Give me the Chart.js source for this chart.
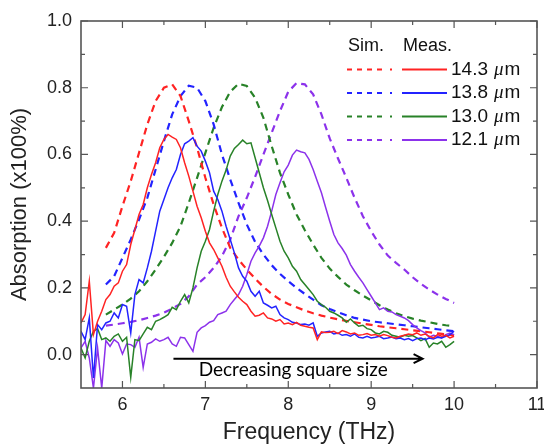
<!DOCTYPE html>
<html><head><meta charset="utf-8">
<script src="https://cdn.jsdelivr.net/npm/chart.js@4.4.1/dist/chart.umd.min.js"></script>
<style>html,body{margin:0;padding:0;background:#fff;}#wrap{width:544px;height:444px;position:relative;}</style>
</head><body><div id="wrap"><canvas id="c"></canvas></div>
<script>
// ---- data ----
const sizes = ['14.3', '13.8', '13.0', '12.1'];
const colors = ['rgb(255,35,35)', 'rgb(35,35,255)', 'rgb(40,130,40)', 'rgb(140,50,235)'];
const xTicks = [6, 7, 8, 9, 10, 11];
const yTicks = [0.0, 0.2, 0.4, 0.6, 0.8, 1.0];

const simFreq = [5.8,5.9,6.0,6.1,6.2,6.3,6.4,6.5,6.6,6.7,6.8,6.9,7.0,7.1,7.2,7.3,7.4,7.5,7.6,7.7,7.8,7.9,8.0,8.1,8.2,8.3,8.4,8.5,8.6,8.7,8.8,8.9,9.0,9.1,9.2,9.3,9.4,9.5,9.6,9.7,9.8,9.9,10.0];
const sim143 = [0.32,0.365,0.445,0.52,0.605,0.69,0.76,0.80,0.81,0.775,0.70,0.62,0.53,0.45,0.38,0.32,0.285,0.255,0.228,0.203,0.182,0.165,0.152,0.142,0.132,0.124,0.117,0.111,0.106,0.101,0.097,0.093,0.089,0.085,0.082,0.079,0.076,0.073,0.07,0.067,0.064,0.061,0.058];
const sim138 = [0.21,0.235,0.29,0.345,0.405,0.47,0.555,0.64,0.72,0.775,0.806,0.80,0.76,0.69,0.60,0.525,0.455,0.39,0.338,0.30,0.268,0.242,0.22,0.2,0.182,0.165,0.148,0.137,0.127,0.118,0.11,0.105,0.1,0.097,0.094,0.091,0.088,0.085,0.082,0.079,0.076,0.073,0.07];
const sim130 = [0.12,0.135,0.15,0.168,0.19,0.22,0.255,0.293,0.335,0.385,0.455,0.53,0.605,0.68,0.742,0.788,0.812,0.805,0.77,0.71,0.625,0.545,0.48,0.42,0.373,0.33,0.29,0.258,0.233,0.21,0.193,0.177,0.163,0.148,0.135,0.124,0.115,0.108,0.102,0.097,0.092,0.088,0.085];
const sim121 = [0.087,0.09,0.094,0.098,0.103,0.11,0.117,0.126,0.138,0.152,0.175,0.21,0.232,0.26,0.295,0.345,0.415,0.47,0.533,0.6,0.665,0.73,0.788,0.814,0.81,0.78,0.72,0.648,0.588,0.53,0.47,0.415,0.37,0.33,0.297,0.275,0.255,0.232,0.212,0.195,0.18,0.167,0.155];

const measFreq = [5.50,5.55,5.60,5.65,5.70,5.75,5.80,5.85,5.90,5.95,
  6.00,6.05,6.10,6.15,6.20,6.25,6.30,6.35,6.40,6.45,
  6.50,6.55,6.60,6.65,6.70,6.75,6.80,6.85,6.90,6.95,
  7.00,7.05,7.10,7.15,7.20,7.25,7.30,7.35,7.40,7.45,
  7.50,7.55,7.60,7.65,7.70,7.75,7.80,7.85,7.90,7.95,
  8.00,8.05,8.10,8.15,8.20,8.25,8.30,8.35,8.40,8.45,
  8.50,8.55,8.60,8.65,8.70,8.75,8.80,8.85,8.90,8.95,
  9.00,9.05,9.10,9.15,9.20,9.25,9.30,9.35,9.40,9.45,
  9.50,9.55,9.60,9.65,9.70,9.75,9.80,9.85,9.90,9.95,
  10.00];
const meas143 = [0.095,0.12,0.22,0.06,0.10,0.13,0.165,0.18,0.205,0.215,
  0.25,0.27,0.33,0.375,0.42,0.45,0.50,0.54,0.575,0.62,
  0.645,0.66,0.652,0.645,0.62,0.575,0.535,0.49,0.445,0.41,
  0.37,0.335,0.315,0.29,0.265,0.232,0.205,0.188,0.172,0.16,
  0.15,0.13,0.115,0.118,0.125,0.11,0.107,0.10,0.105,0.092,
  0.095,0.09,0.097,0.088,0.085,0.082,0.08,0.045,0.068,0.066,
  0.067,0.07,0.063,0.072,0.068,0.062,0.065,0.058,0.06,0.063,
  0.058,0.06,0.055,0.06,0.057,0.052,0.05,0.055,0.058,0.062,
  0.06,0.065,0.058,0.062,0.055,0.05,0.06,0.055,0.058,0.05,
  0.055];
const meas138 = [0.07,0.045,0.11,-0.07,0.09,0.075,0.095,0.10,0.125,0.11,
  0.15,0.145,0.065,0.18,0.225,0.215,0.26,0.31,0.37,0.43,
  0.465,0.50,0.53,0.555,0.60,0.632,0.64,0.65,0.625,0.61,
  0.58,0.545,0.49,0.465,0.43,0.385,0.345,0.305,0.26,0.235,
  0.22,0.19,0.175,0.19,0.155,0.148,0.14,0.145,0.12,0.11,
  0.105,0.097,0.095,0.09,0.092,0.088,0.095,0.055,0.065,0.068,
  0.07,0.062,0.065,0.058,0.06,0.055,0.062,0.052,0.05,0.055,
  0.05,0.052,0.055,0.048,0.05,0.053,0.048,0.05,0.045,0.048,
  0.042,0.048,0.05,0.045,0.05,0.047,0.052,0.05,0.055,0.06,
  0.07];
const meas130 = [0.02,-0.01,0.04,0.07,0.078,0.045,0.05,0.04,0.055,0.062,
  0.04,0.052,-0.068,0.045,0.042,0.062,0.082,0.075,0.10,0.105,
  0.112,0.12,0.142,0.135,0.16,0.18,0.155,0.20,0.26,0.31,
  0.34,0.375,0.43,0.48,0.52,0.553,0.595,0.618,0.63,0.643,
  0.632,0.635,0.59,0.545,0.50,0.462,0.42,0.38,0.34,0.31,
  0.29,0.265,0.25,0.225,0.21,0.195,0.18,0.16,0.15,0.142,
  0.13,0.125,0.118,0.11,0.097,0.107,0.095,0.085,0.088,0.078,
  0.075,0.065,0.062,0.07,0.067,0.058,0.055,0.052,0.058,0.055,
  0.057,0.05,0.042,0.048,0.022,0.035,0.032,0.04,0.022,0.03,
  0.04];
const meas121 = [0.02,0.04,-0.01,-0.1,0.02,-0.1,0.042,0.025,0.045,0.035,
  0.002,0.032,0.03,0.022,0.052,-0.038,0.032,0.037,0.047,0.04,
  0.045,0.052,0.032,0.025,0.052,0.05,0.03,0.01,0.067,0.08,
  0.087,0.097,0.102,0.12,0.125,0.13,0.15,0.165,0.18,0.205,
  0.24,0.28,0.305,0.325,0.35,0.385,0.43,0.48,0.515,0.548,
  0.568,0.598,0.613,0.608,0.605,0.585,0.555,0.52,0.485,0.442,
  0.40,0.36,0.335,0.318,0.298,0.27,0.25,0.232,0.215,0.195,
  0.175,0.155,0.135,0.14,0.13,0.128,0.12,0.115,0.11,0.102,
  0.09,0.08,0.072,0.065,0.052,0.058,0.055,0.05,0.06,0.065,
  0.06];

const simSeries = [sim143, sim138, sim130, sim121];
const measSeries = [meas143, meas138, meas130, meas121];

// annotation (data units)
const arrowFrom = [6.615, -0.012];
const arrowTo = [9.62, -0.012];
const arrowText = 'Decreasing square size';
const arrowTextPos = [8.06, -0.046];

// ---- chart ----
const FONT = '"Liberation Sans", Arial, sans-serif';
const datasets = [];
for (let i = 0; i < 4; i++) {
  datasets.push({
    label: sizes[i] + ' Meas.', data: measFreq.map((f, j) => ({x: f, y: measSeries[i][j]})),
    borderColor: colors[i], borderWidth: 1.5, pointRadius: 0, fill: false, tension: 0
  });
}
for (let i = 0; i < 4; i++) {
  datasets.push({
    label: sizes[i] + ' Sim.', data: simFreq.map((f, j) => ({x: f, y: simSeries[i][j]})),
    borderColor: colors[i], borderWidth: 2.2, borderDash: [7, 5], pointRadius: 0, fill: false, tension: 0
  });
}

const framePlugin = {
  id: 'frame',
  afterDatasetsDraw(chart) {
    const {ctx, chartArea: a, scales: {x, y}} = chart;
    ctx.save();
    ctx.strokeStyle = '#555';
    ctx.lineWidth = 1.2;
    ctx.beginPath();
    const tick = (px, len, horiz) => {
      if (horiz) { // x ticks
        ctx.moveTo(px, a.bottom); ctx.lineTo(px, a.bottom - len);
        ctx.moveTo(px, a.top); ctx.lineTo(px, a.top + len);
      } else {
        ctx.moveTo(a.left, px); ctx.lineTo(a.left + len, px);
        ctx.moveTo(a.right, px); ctx.lineTo(a.right - len, px);
      }
    };
    xTicks.forEach(v => {
      tick(x.getPixelForValue(v), 7, true);
      const m = v - 0.5;
      if (m > x.min) tick(x.getPixelForValue(m), 4, true);
    });
    yTicks.forEach(v => {
      tick(y.getPixelForValue(v), 7, false);
      const m = v - 0.1;
      if (m > y.min + 0.01) tick(y.getPixelForValue(m), 4, false);
    });
    ctx.stroke();
    ctx.lineWidth = 1.6;
    ctx.strokeRect(a.left, a.top, a.right - a.left, a.bottom - a.top);

    // arrow annotation
    const x0 = x.getPixelForValue(arrowFrom[0]), x1 = x.getPixelForValue(arrowTo[0]);
    const ya = y.getPixelForValue(arrowFrom[1]);
    ctx.strokeStyle = '#000';
    ctx.lineWidth = 2;
    ctx.beginPath();
    ctx.moveTo(x0, ya); ctx.lineTo(x1, ya);
    ctx.moveTo(x1 - 9, ya - 4.5); ctx.lineTo(x1, ya); ctx.lineTo(x1 - 9, ya + 4.5);
    ctx.stroke();
    ctx.fillStyle = '#000';
    ctx.font = '19px Lato, "Open Sans", sans-serif';
    ctx.textAlign = 'center';
    ctx.textBaseline = 'middle';
    ctx.fillText(arrowText, x.getPixelForValue(arrowTextPos[0]), y.getPixelForValue(arrowTextPos[1]));
    ctx.restore();
  },
  afterDraw(chart) {
    const ctx = chart.ctx;
    ctx.save();
    ctx.fillStyle = '#111';
    ctx.textBaseline = 'middle';
    ctx.textAlign = 'left';
    ctx.font = '18px ' + FONT;
    ctx.fillText('Sim.', 348, 46);
    ctx.fillText('Meas.', 403, 46);
    const rows = [69.5, 93, 116.5, 140];
    for (let i = 0; i < 4; i++) {
      const yy = rows[i];
      ctx.strokeStyle = colors[i];
      ctx.lineWidth = 2;
      ctx.setLineDash([5, 5, 5, 5, 5, 5, 5, 8, 3, 100]);
      ctx.beginPath(); ctx.moveTo(347, yy); ctx.lineTo(392, yy); ctx.stroke();
      ctx.setLineDash([]);
      ctx.lineWidth = 1.8;
      ctx.beginPath(); ctx.moveTo(402, yy); ctx.lineTo(447, yy); ctx.stroke();
      ctx.fillStyle = '#111';
      ctx.font = '19px ' + FONT;
      ctx.fillText(sizes[i], 451, yy);
      let xx = 451 + ctx.measureText(sizes[i]).width + 6;
      ctx.font = 'italic 19px "Liberation Serif", serif';
      ctx.fillText('\u03bc', xx, yy);
      xx += ctx.measureText('\u03bc').width + 1;
      ctx.font = '19px ' + FONT;
      ctx.fillText('m', xx, yy);
    }
    ctx.restore();
  }
};

new Chart(document.getElementById('c'), {
  type: 'line',
  data: {datasets},
  plugins: [framePlugin],
  options: {
    responsive: true, maintainAspectRatio: false, animation: false, devicePixelRatio: 1,
    layout: {padding: {top: 21, right: 7, left: 0, bottom: 0}},
    plugins: {legend: {display: false}, tooltip: {enabled: false}},
    scales: {
      x: {
        type: 'linear', min: 5.5, max: 11,
        grid: {display: false, drawTicks: false}, border: {display: false},
        afterBuildTicks: s => { s.ticks = xTicks.map(v => ({value: v})); },
        afterFit: s => { s.height = 56; s.paddingLeft = 0; s.paddingRight = 0; },
        ticks: {font: {family: FONT, size: 18}, color: '#222', padding: 6, maxRotation: 0, autoSkip: false, callback: v => String(v)},
        title: {display: true, text: 'Frequency (THz)', font: {family: FONT, size: 23, lineHeight: 1}, color: '#222', padding: {top: 0, bottom: 0}}
      },
      y: {
        type: 'linear', min: -0.1, max: 1.0,
        grid: {display: false, drawTicks: false}, border: {display: false},
        afterBuildTicks: s => { s.ticks = yTicks.map(v => ({value: v})); },
        afterFit: s => { s.width = 81; s.paddingTop = 0; s.paddingBottom = 0; },
        ticks: {font: {family: FONT, size: 18}, color: '#222', padding: 9, autoSkip: false, callback: v => Number(v).toFixed(1)},
        title: {display: true, text: 'Absorption (x100%)', font: {family: FONT, size: 22, lineHeight: 1}, color: '#222', padding: {top: 9, bottom: 0}}
      }
    }
  }
});
</script></body></html>
